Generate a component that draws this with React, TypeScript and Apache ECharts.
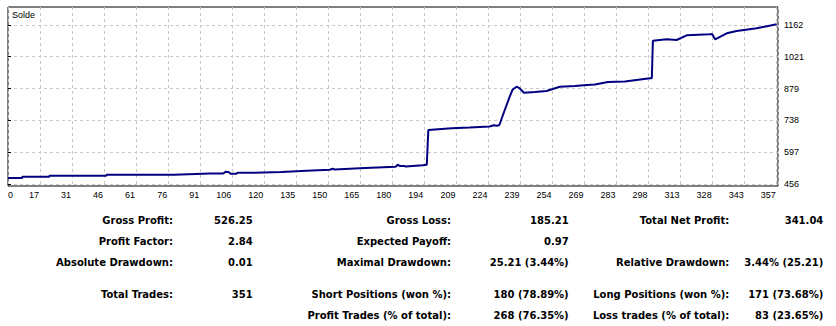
import React, { useEffect, useRef } from "react";
import * as echarts from "echarts";

// Balance curve (trade number, balance)
const tradeIdx = [
  0, 6.6, 6.6, 19.2, 19.2, 45.7, 45.7, 77.3, 77.3, 93.7, 100, 101, 102.4, 103.4, 106.1, 106.6,
  114.5, 127, 138.7, 149.4, 150.8, 151.7, 163.3, 180, 181, 181.9, 183.8, 184.7, 192.6, 194.5,
  195.2, 206, 214.4, 223.7, 225.6, 227.4, 228.2, 230.7, 233, 234.4, 236.2, 237.7, 239.6, 244.7,
  250.1, 256.3, 263.3, 268.9, 272.6, 278.6, 286.5, 298.1, 299, 299.5, 305.9, 310.5, 315.2, 326,
  327, 328.4, 333.8, 338.4, 347.7, 357,
];
const balance = [
  481.8, 481.8, 487.6, 487.6, 492, 492, 496.5, 496.5, 499.6, 501.3, 501.8, 509.8, 508.5, 500.9, 500.9, 504.9,
  505.4, 508.5, 514.2, 518.2, 522.7, 519.1, 524.9, 532, 540.9, 535.1, 535.6, 532.9, 538.3, 540.5,
  695.2, 702.8, 706.3, 710.8, 716.1, 714.3, 717.4, 784.1, 843.2, 875.3, 887.7, 879.7, 861, 864.1,
  868.6, 887.7, 890.8, 895.3, 897.5, 908.6, 910.8, 925.1, 925.1, 1092.2, 1098.5, 1095.3, 1116.2, 1120.7,
  1122, 1098.5, 1125.1, 1135.4, 1147.4, 1165.2,
];

const xTickLabels = [
  "0", "17", "31", "46", "61", "76", "91", "106", "120", "135", "150", "165", "180",
  "194", "209", "224", "239", "254", "269", "283", "298", "313", "328", "343", "357",
];
const yTickValues = [456, 597, 738, 879, 1021, 1162];
const yTickLabels = ["456", "597", "738", "879", "1021", "1162"];

// Statistics table (rows x 3 columns)
const statLabels = [
  ["Gross Profit:", "Gross Loss:", "Total Net Profit:"],
  ["Profit Factor:", "Expected Payoff:", ""],
  ["Absolute Drawdown:", "Maximal Drawdown:", "Relative Drawdown:"],
  ["Total Trades:", "Short Positions (won %):", "Long Positions (won %):"],
  ["", "Profit Trades (% of total):", "Loss trades (% of total):"],
];
const statValues = [
  ["526.25", "185.21", "341.04"],
  ["2.84", "0.97", ""],
  ["0.01", "25.21 (3.44%)", "3.44% (25.21)"],
  ["351", "180 (78.89%)", "171 (73.68%)"],
  ["", "268 (76.35%)", "83 (23.65%)"],
];

const X_STEP = 14.875;

export default function App() {
  const ref = useRef<HTMLDivElement>(null);
  useEffect(() => {
    document.body.style.margin = "0";
    if (!ref.current) return;
    const chart = echarts.init(ref.current, null, { renderer: "svg" });

    const rowY = [220, 241.7, 262.3, 294.3, 315];
    const labelRight = [173, 451, 729.3];
    const valueRight = [252.7, 568.7, 823.3];
    const statFont = "bold 10px 'DejaVu Sans', Verdana, sans-serif";
    const graphics: any[] = [
      {
        type: "text",
        left: 12,
        top: 10,
        style: { text: "Solde", font: "9px 'Liberation Sans', Arial, sans-serif", fill: "#000" },
      },
    ];
    statLabels.forEach((row, r) => {
      row.forEach((lab, c) => {
        if (lab) {
          graphics.push({
            type: "text",
            x: labelRight[c],
            y: rowY[r],
            style: { text: lab, font: statFont, fill: "#000", align: "right", verticalAlign: "middle" },
          });
        }
        const v = statValues[r][c];
        if (v) {
          graphics.push({
            type: "text",
            x: valueRight[c],
            y: rowY[r],
            style: { text: v, font: statFont, fill: "#000", align: "right", verticalAlign: "middle" },
          });
        }
      });
    });

    chart.setOption({
      animation: false,
      backgroundColor: "#fff",
      grid: {
        left: 8,
        top: 7,
        width: 770,
        height: 179,
        show: true,
        borderColor: "#000",
        borderWidth: 1,
        backgroundColor: "#fff",
      },
      xAxis: {
        type: "value",
        min: 0,
        max: 357.6,
        interval: X_STEP,
        axisLine: { show: false },
        axisTick: { show: false },
        splitLine: { show: true, lineStyle: { color: "#c8c8c8", type: [3, 3], width: 1 } },
        axisLabel: {
          margin: 4,
          color: "#000",
          fontSize: 9,
          fontFamily: "'Liberation Sans', Arial, sans-serif",
          align: "right",
          alignMinLabel: "left",
          padding: [0, 1, 0, 0],
          formatter: (v: number) => {
            const i = Math.round(v / X_STEP);
            if (Math.abs(v - i * X_STEP) > 0.01) return "";
            return xTickLabels[i] ?? "";
          },
        },
      },
      yAxis: {
        type: "value",
        position: "right",
        min: 446.2,
        max: 1242,
        axisLine: { show: false },
        axisTick: {
          show: true,
          length: 3,
          lineStyle: { color: "#000" },
          customValues: yTickValues,
        },
        splitLine: { show: true, lineStyle: { color: "#c8c8c8", type: [3, 3], width: 1 } },
        axisLabel: {
          margin: 6,
          color: "#000",
          fontSize: 9,
          fontFamily: "'Liberation Sans', Arial, sans-serif",
          customValues: yTickValues,
          formatter: (v: number) => {
            const i = yTickValues.indexOf(v);
            return i >= 0 ? yTickLabels[i] : "";
          },
        },
      },
      series: [
        {
          type: "line",
          data: tradeIdx.map((t, i) => [t, balance[i]]),
          showSymbol: false,
          symbol: "none",
          lineStyle: { color: "#000080", width: 2 },
          silent: true,
        },
      ],
      graphic: graphics,
    });
    return () => chart.dispose();
  }, []);
  return <div ref={ref} style={{ width: 836, height: 326 }} />;
}
